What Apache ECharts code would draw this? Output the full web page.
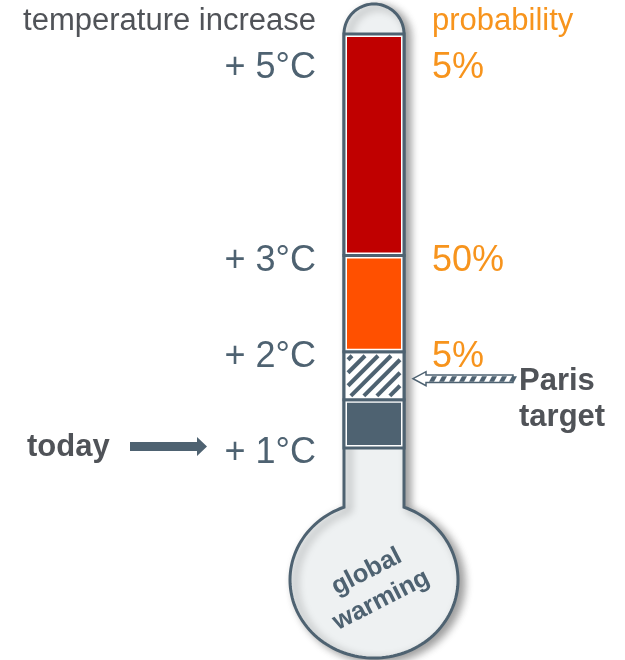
<!DOCTYPE html>
<html>
<head>
<meta charset="utf-8">
<script src="https://cdn.jsdelivr.net/npm/echarts@6/dist/echarts.min.js"></script>
<style>
html,body{margin:0;padding:0;background:#ffffff;}
#c{width:625px;height:660px;}
</style>
</head>
<body>
<div id="c"></div>
<script>
// ---- data ----
const segmentNames = ['today', 'Paris target', '2-3 °C', 'above 3 °C'];
const segmentLow = [1, 1.5, 2, 3];
const segmentHigh = [1.5, 2, 3, 5.3];
const tempTicks = [1, 2, 3, 5];
const probLevels = [2, 3, 5];
const probLabels = ['5%', '50%', '5%'];
const axisMin = 1;
const axisMax = 5.3;

// ---- styles ----
const FONT = "'Liberation Sans', Arial, Helvetica, sans-serif";
const SLATE = '#4e6271';
const ORANGE = '#f7941d';
const DARK = '#505358';
const LIGHT = '#eef1f2';
const segFill = ['#4e6271', 'hatch', '#ff5000', '#c00000'];

const chart = echarts.init(document.getElementById('c'), null, {renderer: 'canvas'});

function renderSegment(params, api) {
  const i = params.dataIndex;
  const lo = api.value(1), hi = api.value(2);
  const a = api.coord([0, hi]);
  const b = api.coord([1, lo]);
  const x = a[0], y = a[1], w = b[0] - a[0], h = b[1] - a[1];
  const inset = 3;
  const children = [{
    type: 'rect',
    shape: {x: x, y: y, width: w, height: h},
    style: {fill: '#ffffff', stroke: SLATE, lineWidth: 3}
  }];
  const ix = x + inset, iy = y + inset, iw = w - 2 * inset, ih = h - 2 * inset;
  if (segFill[i] === 'hatch') {
    const step = 13;
    const cx0 = ix + 1, cy0 = iy + 1, cw = iw - 2, ch = ih - 2;
    for (let c = cx0 + cy0 + 4; c < cx0 + cw + cy0 + ch; c += step) {
      const xa = Math.max(cx0, c - (cy0 + ch));
      const xb = Math.min(cx0 + cw, c - cy0);
      if (xb - xa > 1) {
        children.push({
          type: 'line',
          shape: {x1: xa, y1: c - xa, x2: xb, y2: c - xb},
          style: {stroke: SLATE, lineWidth: 4, lineCap: 'butt'}
        });
      }
    }
  } else {
    children.push({
      type: 'rect',
      shape: {x: ix, y: iy, width: iw, height: ih},
      style: {fill: segFill[i]}
    });
  }
  return {type: 'group', children: children};
}

const option = {
  animation: false,
  backgroundColor: '#ffffff',
  textStyle: {fontFamily: FONT},
  grid: {left: 344, right: 221, top: 34, bottom: 212, containLabel: false},
  xAxis: {type: 'value', min: 0, max: 1, show: false},
  yAxis: [
    {
      type: 'value', min: axisMin, max: axisMax, position: 'left',
      axisLine: {show: false}, axisTick: {show: false}, splitLine: {show: false},
      axisLabel: {
        customValues: tempTicks,
        formatter: function (v) { return '{t|+ ' + v + '°C}'; },
        margin: 28,
        rich: {t: {fontSize: 36, color: SLATE, fontFamily: FONT, padding: [11, 0, 0, 0]}}
      }
    },
    {
      type: 'value', min: axisMin, max: axisMax, position: 'right',
      axisLine: {show: false}, axisTick: {show: false}, splitLine: {show: false},
      axisLabel: {
        customValues: probLevels,
        formatter: function (v) { return '{p|' + probLabels[probLevels.indexOf(v)] + '}'; },
        margin: 28,
        rich: {p: {fontSize: 36, color: ORANGE, fontFamily: FONT, padding: [11, 0, 0, 0]}}
      }
    }
  ],
  series: [{
    type: 'custom',
    name: 'warming',
    yAxisIndex: 0,
    clip: false,
    renderItem: renderSegment,
    encode: {x: 0, y: [1, 2]},
    data: segmentLow.map(function (lo, i) { return {name: segmentNames[i], value: [0, lo, segmentHigh[i]]}; }),
    z: 2
  }]
};
chart.setOption(option);

// ---- decoration (thermometer frame, arrows, texts) tied to the axis ----
const pTop = chart.convertToPixel({gridIndex: 0}, [0, axisMax]);
const pBase = chart.convertToPixel({gridIndex: 0}, [1, axisMin]);
const xL = pTop[0], yTop = pTop[1], xR = pBase[0], yBase = pBase[1];
const cx = (xL + xR) / 2, r = (xR - xL) / 2;
const bulbCy = yBase + 132, rx = 84, ry = 78;
const alpha = Math.acos(r / rx);
const jy = bulbCy - ry * Math.sin(alpha);

const framePts = [];
framePts.push([xL, jy]);
for (let k = 0; k <= 40; k++) {
  const t = Math.PI + Math.PI * k / 40;
  framePts.push([cx + r * Math.cos(t), yTop + r * Math.sin(t)]);
}
framePts.push([xR, jy]);
for (let k = 0; k <= 120; k++) {
  const t = -alpha + (Math.PI + 2 * alpha) * k / 120;
  framePts.push([cx + rx * Math.cos(t), bulbCy + ry * Math.sin(t)]);
}

const pParis = chart.convertToPixel({gridIndex: 0}, [1, 1.72]);
const ay = pParis[1];
const ax = xR + 9;
const parisDashes = [];
for (let k = 0; k < 9; k++) {
  const dx = ax + 16 + k * 10;
  parisDashes.push({
    type: 'polygon', z: 5,
    shape: {points: [[dx, ay + 3], [dx + 3, ay - 2.5], [dx + 8, ay - 2.5], [dx + 5, ay + 3]]},
    style: {fill: SLATE}
  });
}

const todayY = yBase - 1.5;

chart.setOption({
  graphic: [
    {
      type: 'polygon', z: 0,
      shape: {points: framePts},
      style: {fill: LIGHT, stroke: SLATE, lineWidth: 3,
        shadowBlur: 9, shadowOffsetX: 5, shadowOffsetY: 3, shadowColor: 'rgba(0,0,0,0.38)'}
    },
    {
      type: 'text', z: 5, x: cx, y: bulbCy + 6, rotation: 27 * Math.PI / 180,
      style: {text: 'global\nwarming', fill: SLATE, font: 'bold 25.5px ' + FONT,
        align: 'center', verticalAlign: 'middle', lineHeight: 32}
    },
    {
      type: 'text', z: 5, x: xL - 28, y: 21,
      style: {text: 'temperature increase', fill: DARK, font: '31px ' + FONT,
        align: 'right', verticalAlign: 'middle'}
    },
    {
      type: 'text', z: 5, x: xR + 28, y: 21,
      style: {text: 'probability', fill: ORANGE, font: '31px ' + FONT,
        align: 'left', verticalAlign: 'middle'}
    },
    {
      type: 'text', z: 5, x: 27, y: todayY + 1,
      style: {text: 'today', fill: DARK, font: 'bold 31px ' + FONT,
        align: 'left', verticalAlign: 'middle'}
    },
    {
      type: 'polygon', z: 5,
      shape: {points: [[130, todayY - 4.5], [197, todayY - 4.5], [197, todayY - 9.5], [207, todayY],
        [197, todayY + 9.5], [197, todayY + 4.5], [130, todayY + 4.5]]},
      style: {fill: SLATE}
    },
    {
      type: 'polygon', z: 4,
      shape: {points: [[ax, ay], [ax + 13, ay - 7], [ax + 13, ay - 3.8], [ax + 100, ay - 3.8],
        [ax + 100, ay + 3.8], [ax + 13, ay + 3.8], [ax + 13, ay + 7]]},
      style: {fill: '#ffffff', stroke: SLATE, lineWidth: 1.5}
    }
  ].concat(parisDashes).concat([
    {
      type: 'text', z: 5, x: 519, y: ay + 21,
      style: {text: 'Paris\ntarget', fill: DARK, font: 'bold 31px ' + FONT,
        align: 'left', verticalAlign: 'middle', lineHeight: 36}
    }
  ])
});
</script>
</body>
</html>
